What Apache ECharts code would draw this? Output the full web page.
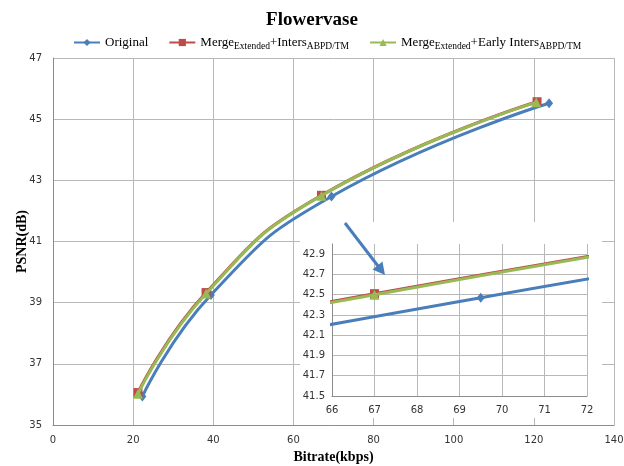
<!DOCTYPE html>
<html>
<head>
<meta charset="utf-8">
<script src="https://cdn.jsdelivr.net/npm/echarts@6/dist/echarts.min.js"></script>
<style>
  html, body { margin: 0; padding: 0; background: #fff; }
  #chart { width: 624px; height: 466px; }
</style>
</head>
<body>
<div id="chart"></div>
<script>
// values: [bitrate kbps, PSNR dB]
const original = [[22.3, 35.93], [39.4, 39.25], [69.5, 42.47], [123.8, 45.52]];
const mergeInters = [[21.2, 36.06], [38.2, 39.33], [67.0, 42.51], [120.8, 45.57]];
const mergeEarly = [[21.2, 36.02], [38.2, 39.30], [67.0, 42.50], [120.6, 45.55]];

const seriesNames = ['Original', 'MergeInters', 'MergeEarly'];
const legendLabels = {
  Original: '{n|Original}',
  MergeInters: '{n|Merge}{s|Extended}{n|+Inters}{s|ABPD/TM}',
  MergeEarly: '{n|Merge}{s|Extended}{n|+Early Inters}{s|ABPD/TM}'
};

const colors = ['#4a7ebb', '#be4b48', '#98b954'];
const symbols = ['diamond', 'rect', 'triangle'];
const symbolSizes = [[8, 10], 9, 10];
const dataSets = [original, mergeInters, mergeEarly];

const serif = '"Liberation Serif", "DejaVu Serif", serif';
const sans = '"DejaVu Sans", sans-serif';

const chart = echarts.init(document.getElementById('chart'));

function makeSeries(gridIdx, zBase) {
  return dataSets.map((data, i) => ({
    name: seriesNames[i],
    type: 'line',
    xAxisIndex: gridIdx,
    yAxisIndex: gridIdx,
    data: data,
    smooth: true,
    clip: true,
    z: zBase + i,
    symbol: symbols[i],
    symbolSize: symbolSizes[i],
    showSymbol: true,
    lineStyle: { color: colors[i], width: 3 },
    itemStyle: { color: colors[i] },
    emphasis: { disabled: true },
    animation: false
  }));
}

const gridLine = { show: true, lineStyle: { color: '#b8b8b8', width: 1 } };
const axisLine = { show: true, lineStyle: { color: '#8c8c8c', width: 1 } };
const tickFont = { fontFamily: sans, fontSize: 10, color: '#333' };

const option = {
  animation: false,
  color: colors,
  title: {
    text: 'Flowervase',
    left: 'center',
    top: 6,
    textStyle: { fontFamily: serif, fontSize: 19, fontWeight: 'bold', color: '#000' }
  },
  legend: {
    data: seriesNames,
    left: 68,
    top: 31,
    itemWidth: 26,
    itemHeight: 9,
    itemGap: 20,
    formatter: name => legendLabels[name],
    textStyle: {
      fontFamily: serif,
      color: '#000',
      rich: {
        n: { fontFamily: serif, fontSize: 13, lineHeight: 17, color: '#000' },
        s: { fontFamily: serif, fontSize: 9.5, lineHeight: 11, verticalAlign: 'bottom', color: '#000' }
      }
    }
  },
  grid: [
    { left: 53, right: 10, top: 58, bottom: 41, outerBoundsMode: 'none' },
    { left: 332, right: 37, top: 244, bottom: 70, outerBoundsMode: 'none' }
  ],
  xAxis: [
    {
      gridIndex: 0, type: 'value', min: 0, max: 140, interval: 20, z: 0,
      name: 'Bitrate(kbps)', nameLocation: 'middle', nameGap: 25, nameMoveOverlap: false,
      nameTextStyle: { fontFamily: serif, fontSize: 14, fontWeight: 'bold', color: '#000' },
      axisLine: axisLine, axisTick: { show: false },
      axisLabel: Object.assign({ margin: 10 }, tickFont),
      splitLine: gridLine
    },
    {
      gridIndex: 1, type: 'value', min: 66, max: 72, interval: 1, z: 5,
      axisLine: axisLine, axisTick: { show: false },
      axisLabel: Object.assign({ margin: 9 }, tickFont),
      splitLine: gridLine
    }
  ],
  yAxis: [
    {
      gridIndex: 0, type: 'value', min: 35, max: 47, interval: 2, z: 0,
      name: 'PSNR(dB)', nameLocation: 'middle', nameGap: 24, nameRotate: 90, nameMoveOverlap: false,
      nameTextStyle: { fontFamily: serif, fontSize: 14, fontWeight: 'bold', color: '#000' },
      axisLine: axisLine, axisTick: { show: false },
      axisLabel: Object.assign({ margin: 11 }, tickFont),
      splitLine: gridLine
    },
    {
      gridIndex: 1, type: 'value', min: 41.5, max: 43.0, interval: 0.2, z: 5,
      axisLine: axisLine, axisTick: { show: false },
      axisLabel: Object.assign({ margin: 7, showMaxLabel: false }, tickFont),
      splitLine: Object.assign({ showMaxLine: false }, gridLine)
    }
  ],
  graphic: [
    {
      type: 'rect', z: 3, silent: true,
      shape: { x: 300, y: 222, width: 302, height: 196 },
      style: { fill: '#fff' }
    },
    {
      type: 'line', z: 20, silent: true,
      shape: { x1: 345, y1: 223, x2: 378, y2: 266 },
      style: { stroke: '#4a7ebb', lineWidth: 3 }
    },
    {
      type: 'polygon', z: 20, silent: true,
      shape: { points: [[385, 275], [382.5, 261.5], [372.5, 269.5]] },
      style: { fill: '#4a7ebb' }
    }
  ],
  series: makeSeries(0, 2).concat(makeSeries(1, 10))
};

chart.setOption(option);
</script>
</body>
</html>
